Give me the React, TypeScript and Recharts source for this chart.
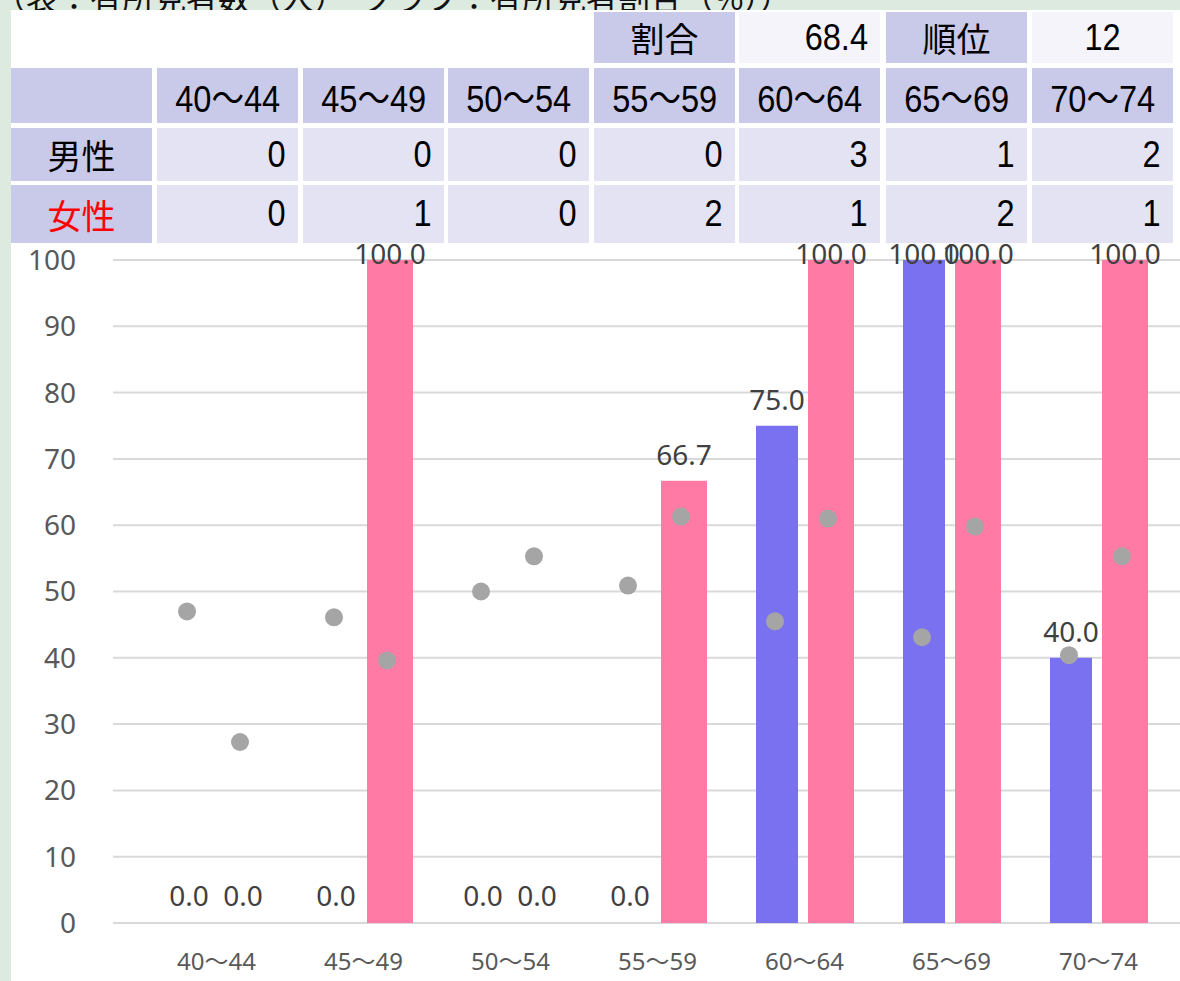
import React from 'react';
import { ComposedChart, Bar, Scatter, XAxis, YAxis, CartesianGrid, LabelList } from 'recharts';

const categories = ['40～44', '45～49', '50～54', '55～59', '60～64', '65～69', '70～74'];
const maleRate = [0, 0, 0, 0, 75.0, 100.0, 40.0];
const femaleRate = [0, 100.0, 0, 66.7, 100.0, 100.0, 100.0];
const maleRef = [47.0, 46.1, 50.0, 50.9, 45.5, 43.1, 40.4];
const femaleRef = [27.3, 39.6, 55.3, 61.3, 61.0, 59.8, 55.3];
const maleCount = [0, 0, 0, 0, 3, 1, 2];
const femaleCount = [0, 1, 0, 2, 1, 2, 1];
const yTicks = [0, 10, 20, 30, 40, 50, 60, 70, 80, 90, 100];
const titleText = '（表：有所見者数（人）　グラフ：有所見者割合（%））';
const ratioLabel = '割合';
const ratioValue = '68.4';
const rankLabel = '順位';
const rankValue = '12';
const rowLabels = ['男性', '女性'];

const data = categories.map((c, i) => ({
  cat: c,
  male: maleRate[i],
  female: femaleRate[i],
  maleRef: maleRef[i],
  femaleRef: femaleRef[i],
}));

const HEAD = '#c9c9e9';
const LIGHT = '#e3e3f3';
const PALE = '#f4f4fa';
const MALE_COLOR = '#7a71f0';
const FEMALE_COLOR = '#ff7ba6';
const colLefts = [11, 157, 303, 448, 594, 739, 886, 1032];
const colW = 141;
const rowTops = [12, 68, 128, 185];
const rowHs = [51, 55, 53, 58];
const numFont = "'Liberation Sans', Arial, 'Noto Sans CJK JP', sans-serif";
const cjkFont = "'Noto Sans CJK JP', sans-serif";

const Cell = ({ col, row, bg, children, align = 'center', color = '#000', narrow = false }: any) => (
  <div
    style={{
      position: 'absolute',
      left: colLefts[col],
      top: rowTops[row],
      width: colW,
      height: rowHs[row],
      background: bg,
      display: 'flex',
      alignItems: 'center',
      justifyContent: align === 'right' ? 'flex-end' : 'center',
      paddingRight: align === 'right' ? 12 : 0,
      boxSizing: 'border-box',
      fontFamily: narrow ? numFont : cjkFont,
      fontSize: narrow ? 37 : 34,
      color,
      zIndex: 5,
      whiteSpace: 'nowrap',
    }}
  >
    <span
      style={{
        display: 'inline-block',
        transform: narrow ? 'scaleX(0.88)' : 'none',
        transformOrigin: align === 'right' ? 'right center' : 'center center',
      }}
    >
      {children}
    </span>
  </div>
);

const makeDot = (off: number) => (props: any) => {
  if (props.cx == null || props.cy == null) return <g />;
  return <circle cx={props.cx + off} cy={props.cy} r={9} fill="#a5a5a5" />;
};

const makeBarShape = (key: string, fill: string) => (props: any) => {
  const v = props.payload ? props.payload[key] : 0;
  if (!v) return <g />;
  return <rect x={props.x} y={props.y} width={props.width} height={props.height} fill={fill} />;
};

const BarLabel = (props: any) => {
  const { x, y, width, value } = props;
  if (value == null) return null;
  const by = Math.max(Number(y) - 16, 264);
  return (
    <text
      x={Number(x) + Number(width) / 2}
      y={by}
      textAnchor="middle"
      fill="#404040"
      fontSize={28}
      fontFamily="'Noto Sans', sans-serif"
    >
      {Number(value).toFixed(1)}
    </text>
  );
};

export default function App() {
  return (
    <div
      style={{
        position: 'absolute',
        left: 0,
        top: 0,
        width: 1180,
        height: 981,
        overflow: 'hidden',
        background: '#dceae0',
      }}
    >
      <div style={{ position: 'absolute', left: 0, top: 0, width: 1180, height: 10, overflow: 'hidden' }}>
        <div
          style={{
            position: 'absolute',
            left: -6,
            top: -24,
            fontSize: 32,
            lineHeight: '40px',
            fontFamily: cjkFont,
            color: '#111',
            whiteSpace: 'nowrap',
          }}
        >
          {titleText}
        </div>
      </div>
      <div style={{ position: 'absolute', left: 11, top: 10, width: 1169, height: 971, background: '#fff' }} />
      <div style={{ position: 'absolute', left: 0, top: 0 }}>
        <ComposedChart
          width={1180}
          height={981}
          data={data}
          margin={{ top: 260, right: 0, left: 0, bottom: 0 }}
          barGap={10}
        >
          <CartesianGrid vertical={false} stroke="#d9d9d9" strokeWidth={2} />
          <XAxis
            dataKey="cat"
            height={58}
            axisLine={false}
            tickLine={false}
            tickSize={0}
            tickMargin={30}
            padding={{ left: 30, right: 8 }}
            interval={0}
            tick={{ fill: '#595959', fontSize: 24, fontFamily: "'Noto Sans', 'Noto Sans CJK JP', sans-serif" }}
          />
          <YAxis
            width={113}
            domain={[0, 100]}
            ticks={yTicks}
            axisLine={false}
            tickLine={false}
            tickSize={0}
            tickMargin={37}
            interval={0}
            tick={{ fill: '#595959', fontSize: 28, fontFamily: "'Noto Sans', sans-serif" }}
          />
          <Bar
            dataKey="male"
            fill={MALE_COLOR}
            barSize={42}
            minPointSize={1}
            shape={makeBarShape('male', MALE_COLOR)}
            isAnimationActive={false}
          >
            <LabelList dataKey="male" content={BarLabel} />
          </Bar>
          <Bar
            dataKey="female"
            fill={FEMALE_COLOR}
            barSize={46}
            minPointSize={1}
            shape={makeBarShape('female', FEMALE_COLOR)}
            isAnimationActive={false}
          >
            <LabelList dataKey="female" content={BarLabel} />
          </Bar>
          <Scatter dataKey="maleRef" isAnimationActive={false} shape={makeDot(-29.5)} />
          <Scatter dataKey="femaleRef" isAnimationActive={false} shape={makeDot(23.5)} />
        </ComposedChart>
      </div>

      <Cell col={4} row={0} bg={HEAD}>{ratioLabel}</Cell>
      <Cell col={5} row={0} bg={PALE} align="right" narrow>{ratioValue}</Cell>
      <Cell col={6} row={0} bg={HEAD}>{rankLabel}</Cell>
      <Cell col={7} row={0} bg={PALE} narrow>{rankValue}</Cell>

      <Cell col={0} row={1} bg={HEAD}>{''}</Cell>
      {categories.map((c, i) => (
        <Cell key={'h' + i} col={i + 1} row={1} bg={HEAD} narrow>{c}</Cell>
      ))}

      <Cell col={0} row={2} bg={HEAD}>{rowLabels[0]}</Cell>
      {maleCount.map((v, i) => (
        <Cell key={'m' + i} col={i + 1} row={2} bg={LIGHT} align="right" narrow>{v}</Cell>
      ))}
      <Cell col={0} row={3} bg={HEAD} color="#ff0000">{rowLabels[1]}</Cell>
      {femaleCount.map((v, i) => (
        <Cell key={'f' + i} col={i + 1} row={3} bg={LIGHT} align="right" narrow>{v}</Cell>
      ))}
    </div>
  );
}
